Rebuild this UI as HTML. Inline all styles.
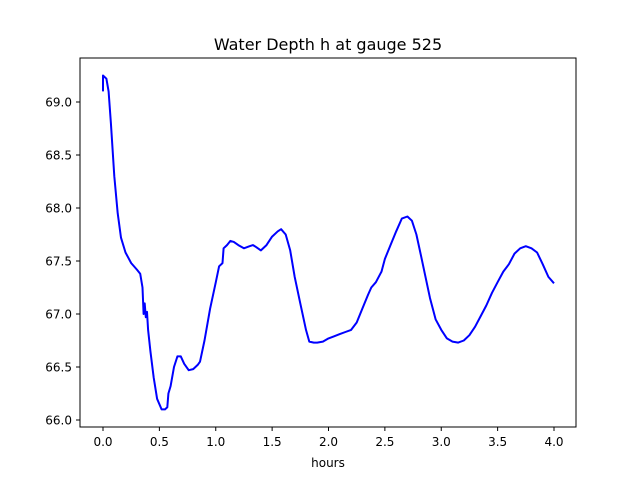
<!DOCTYPE html>
<html><head><meta charset="utf-8"><style>
body{margin:0;background:#fff;}
svg text{font-family:"DejaVu Sans","Liberation Sans",sans-serif;fill:#000;}
</style></head><body>
<svg id="chart" width="640" height="480" viewBox="0 0 640 480" xmlns="http://www.w3.org/2000/svg">
<rect width="640" height="480" fill="#fff"/>
<text x="328" y="50" font-size="16" text-anchor="middle">Water Depth h at gauge 525</text>
<g id="plot"></g>
<rect x="80" y="58" width="496" height="369" fill="none" stroke="#000" stroke-width="1"/>
<text x="328" y="467" font-size="12" text-anchor="middle">hours</text>
</svg>
<script>
const times=[0.0,0.0,0.03,0.05,0.07,0.1,0.13,0.16,0.2,0.25,0.3,0.33,0.35,0.36,0.37,0.38,0.39,0.4,0.42,0.45,0.48,0.52,0.55,0.57,0.58,0.6,0.63,0.66,0.69,0.72,0.76,0.8,0.84,0.86,0.9,0.95,1.0,1.03,1.06,1.07,1.1,1.13,1.16,1.2,1.25,1.3,1.33,1.36,1.4,1.45,1.5,1.55,1.58,1.62,1.66,1.7,1.75,1.8,1.83,1.87,1.9,1.95,2.0,2.05,2.1,2.15,2.2,2.25,2.3,2.35,2.38,2.42,2.47,2.5,2.55,2.6,2.65,2.7,2.74,2.78,2.82,2.86,2.9,2.95,3.0,3.05,3.1,3.15,3.2,3.25,3.3,3.35,3.4,3.45,3.5,3.55,3.6,3.65,3.7,3.75,3.8,3.85,3.9,3.95,4.0];
const depths=[69.1,69.25,69.22,69.1,68.8,68.3,67.95,67.72,67.58,67.48,67.42,67.38,67.25,67.0,67.1,66.97,67.02,66.85,66.65,66.4,66.2,66.1,66.1,66.12,66.25,66.32,66.5,66.6,66.6,66.53,66.47,66.48,66.52,66.55,66.75,67.05,67.3,67.45,67.48,67.62,67.65,67.69,67.68,67.65,67.62,67.64,67.65,67.63,67.6,67.65,67.73,67.78,67.8,67.75,67.6,67.35,67.1,66.85,66.74,66.73,66.73,66.74,66.77,66.79,66.81,66.83,66.85,66.92,67.05,67.18,67.25,67.3,67.4,67.52,67.65,67.78,67.9,67.92,67.88,67.75,67.55,67.35,67.15,66.95,66.85,66.77,66.74,66.73,66.75,66.8,66.88,66.98,67.08,67.2,67.3,67.4,67.47,67.57,67.62,67.64,67.62,67.58,67.47,67.35,67.29];
const xTicks=[0.0,0.5,1.0,1.5,2.0,2.5,3.0,3.5,4.0];
const yTicks=[66.0,66.5,67.0,67.5,68.0,68.5,69.0];
const xs=t=>103+(t-0)*(554-103)/4;
const ys=v=>420-(v-66)*(420-102)/3;
const NS="http://www.w3.org/2000/svg";
const g=document.getElementById('plot');
function mk(tag,attrs){const e=document.createElementNS(NS,tag);for(const k in attrs)e.setAttribute(k,attrs[k]);g.appendChild(e);return e;}
xTicks.forEach(t=>{
 const l=mk('line',{x1:xs(t),x2:xs(t),y1:427,y2:431,stroke:'#000'});
 
 
 const tx=mk('text',{x:xs(t),y:446,'font-size':12,'text-anchor':'middle'});
 tx.textContent=t.toFixed(1);
 
 
});
yTicks.forEach(v=>{
 const l=mk('line',{x1:76,x2:80,y1:ys(v),y2:ys(v),stroke:'#000'});
 
 
 const tx=mk('text',{x:72,y:ys(v)+4.5,'font-size':12,'text-anchor':'end'});
 tx.textContent=v.toFixed(1);
 
 
});
const d=times.map((t,i)=>(i?'L':'M')+xs(t).toFixed(1)+','+ys(depths[i]).toFixed(1)).join(' ');
const p=mk('path',{d:d,fill:'none',stroke:'#0000ff','stroke-width':2,'stroke-linejoin':'round'});


</script>
</body></html>
